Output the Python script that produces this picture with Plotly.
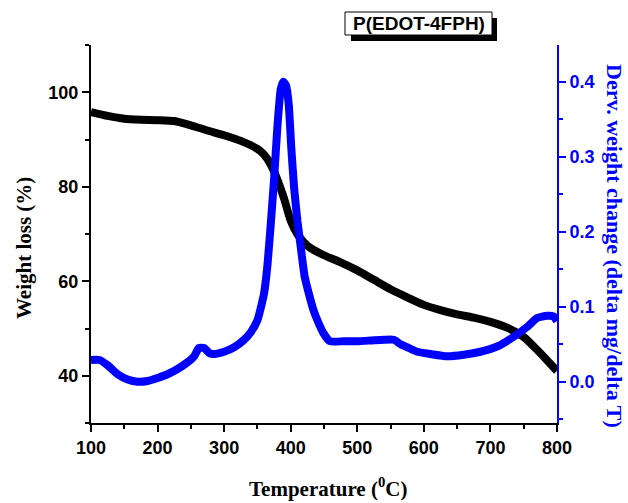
import plotly.graph_objects as go

# ---- data ----
temp_tga = [100, 125, 150, 175, 200, 225, 250, 275, 300, 325, 350, 360, 370, 380, 390, 400,
            410, 420, 430, 450, 475, 500, 525, 550, 575, 600, 625, 650, 675, 700, 725, 750,
            770, 785, 800]
weight_loss = [95.8, 95.0, 94.4, 94.2, 94.1, 93.9, 93.0, 91.9, 90.9, 89.7, 88.0, 86.8, 84.7,
               81.5, 77.5, 72.8, 70.0, 68.2, 67.0, 65.5, 64.0, 62.3, 60.3, 58.3, 56.6, 55.0,
               53.9, 53.0, 52.3, 51.4, 50.2, 48.2, 45.5, 43.3, 41.0]

temp_dtg = [100, 113, 125, 140, 155, 170, 185, 200, 215, 230, 245, 255, 262, 270, 278, 285,
            300, 315, 330, 340, 350, 360, 365, 370, 375, 380, 385, 389, 393, 397, 401, 405,
            410, 415, 421, 428, 434, 442, 449, 459, 480, 500, 520, 540, 555, 565, 575, 590,
            610, 635, 660, 685, 710, 735, 755, 770, 785, 795, 800]
deriv = [0.029, 0.029, 0.022, 0.010, 0.003, 0.000, 0.001, 0.005, 0.010, 0.017, 0.026, 0.034,
         0.045, 0.045, 0.038, 0.037, 0.040, 0.046, 0.056, 0.066, 0.082, 0.118, 0.155, 0.210,
         0.270, 0.340, 0.390, 0.400, 0.395, 0.370, 0.310, 0.260, 0.215, 0.180, 0.140, 0.115,
         0.096, 0.078, 0.065, 0.054, 0.054, 0.054, 0.055, 0.056, 0.056, 0.050, 0.046, 0.040,
         0.037, 0.034, 0.036, 0.040, 0.047, 0.060, 0.073, 0.085, 0.088, 0.087, 0.081]

x_range = [100, 800]
left_range = [30, 110]
right_range = [-0.055, 0.449]

sample_label = "P(EDOT-4FPH)"
x_title = "Temperature (<sup>0</sup>C)"
left_title = "Weight loss (%)"
right_title = "Derv. weight change (delta mg/delta T)"

BLUE = "#0000ff"
SANS = "Liberation Sans"
SERIF = "Liberation Serif"

fig = go.Figure()
fig.add_trace(go.Scatter(x=temp_tga, y=weight_loss, mode="lines",
                         line=dict(color="black", width=8, shape="spline", smoothing=0.6),
                         yaxis="y", showlegend=False))
fig.add_trace(go.Scatter(x=temp_dtg, y=deriv, mode="lines",
                         line=dict(color=BLUE, width=8, shape="spline", smoothing=0.5),
                         yaxis="y2", showlegend=False))

tickfont = dict(family=SANS, size=18, color="black", weight="bold")

fig.update_layout(
    width=628, height=503,
    margin=dict(l=91, r=71, t=45, b=80),
    paper_bgcolor="white", plot_bgcolor="white",
    xaxis=dict(range=x_range, dtick=100, tick0=0, showgrid=False, zeroline=False,
               showline=True, linecolor="black", linewidth=2,
               ticks="outside", ticklen=7, tickwidth=1.5, tickcolor="black",
               minor=dict(dtick=50, ticks="outside", ticklen=4, tickwidth=1.5, tickcolor="black"),
               tickfont=tickfont),
    yaxis=dict(range=left_range, dtick=20, tick0=0, showgrid=False, zeroline=False,
               showline=True, linecolor="black", linewidth=2,
               ticks="outside", ticklen=7, tickwidth=1.5, tickcolor="black",
               minor=dict(dtick=10, ticks="outside", ticklen=4, tickwidth=1.5, tickcolor="black"),
               tickfont=tickfont),
    yaxis2=dict(range=right_range, dtick=0.1, tick0=0, overlaying="y", side="right",
                showgrid=False, zeroline=False, tickformat=".1f",
                showline=True, linecolor=BLUE, linewidth=2,
                ticks="outside", ticklen=7, tickwidth=1.5, tickcolor=BLUE,
                minor=dict(dtick=0.05, ticks="outside", ticklen=4, tickwidth=1.5, tickcolor=BLUE),
                tickfont=dict(family=SANS, size=18, color=BLUE, weight="bold")),
)

# helper to convert pixel positions to paper coords
PL, PR, PT, PB = 91, 557, 45, 423
def px(x):
    return (x - PL) / (PR - PL)
def py(y):
    return (PB - y) / (PB - PT)

# label box with drop shadow
fig.add_shape(type="rect", xref="paper", yref="paper",
              x0=px(351), x1=px(497), y0=py(41), y1=py(18),
              fillcolor="black", line=dict(width=0), layer="above")
fig.add_shape(type="rect", xref="paper", yref="paper",
              x0=px(345), x1=px(492), y0=py(35), y1=py(12),
              fillcolor="white", line=dict(color="black", width=1), layer="above")
fig.add_annotation(text=sample_label, xref="paper", yref="paper",
                   x=px(418.5), y=py(24), xanchor="center", yanchor="middle",
                   showarrow=False, font=dict(family=SANS, size=19, color="black", weight="bold"))

# axis titles
fig.add_annotation(text=x_title, xref="paper", yref="paper",
                   x=px(328), y=py(488), xanchor="center", yanchor="middle", showarrow=False,
                   font=dict(family=SERIF, size=21, color="black", weight="bold"))
fig.add_annotation(text=left_title, xref="paper", yref="paper", textangle=-90,
                   x=px(24), y=py(248), xanchor="center", yanchor="middle", showarrow=False,
                   font=dict(family=SERIF, size=21, color="black", weight="bold"))
fig.add_annotation(text=right_title, xref="paper", yref="paper", textangle=90,
                   x=px(615), y=py(246), xanchor="center", yanchor="middle", showarrow=False,
                   font=dict(family=SERIF, size=22, color=BLUE, weight="bold"))

fig.write_html("out.html")
